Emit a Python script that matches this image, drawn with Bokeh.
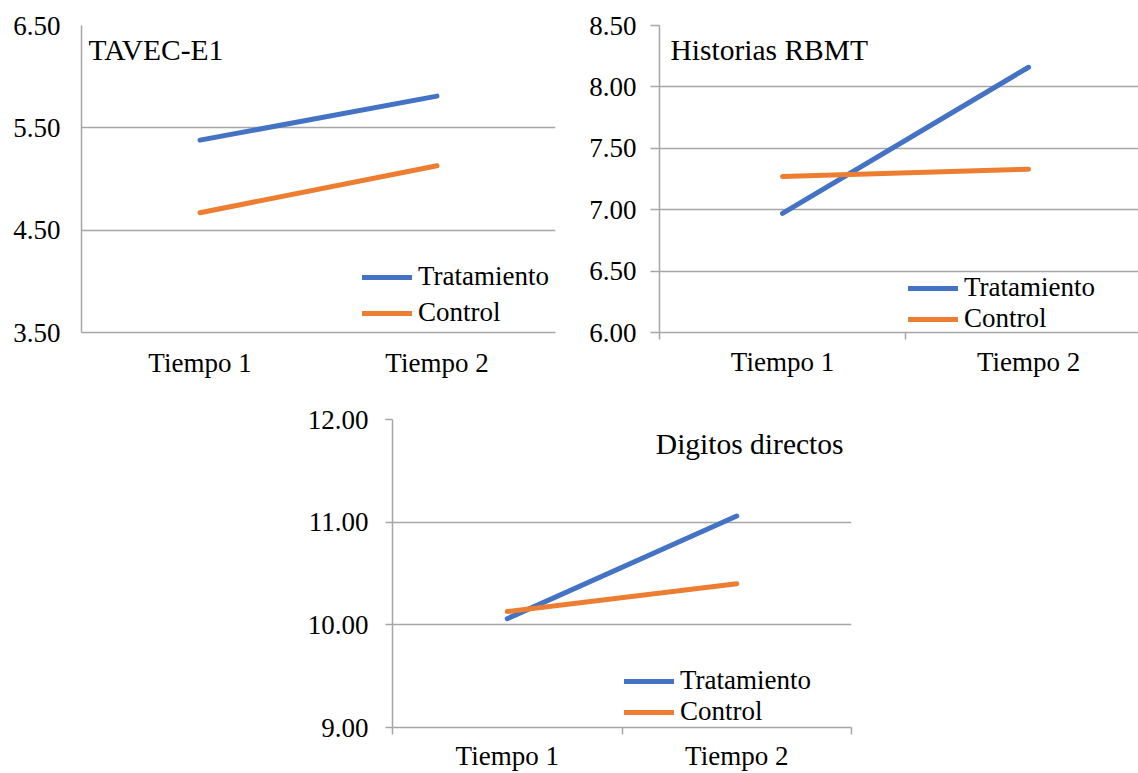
from bokeh.plotting import figure
from bokeh.layouts import column, row
from bokeh.models import FixedTicker, Range1d, Label, Legend, LegendItem, NumeralTickFormatter
from bokeh.embed import file_html
from bokeh.resources import INLINE

# ---------------- data ----------------
categories = ["Tiempo 1", "Tiempo 2"]
series_names = ["Tratamiento", "Control"]

tavec_tratamiento = [5.38, 5.81]
tavec_control = [4.67, 5.13]
tavec_yticks = [3.5, 4.5, 5.5, 6.5]

historias_tratamiento = [6.97, 8.16]
historias_control = [7.27, 7.33]
historias_yticks = [6.0, 6.5, 7.0, 7.5, 8.0, 8.5]

digitos_tratamiento = [10.06, 11.06]
digitos_control = [10.13, 10.40]
digitos_yticks = [9.0, 10.0, 11.0, 12.0]

titles = ["TAVEC-E1", "Historias RBMT", "Digitos directos"]

# ---------------- style ----------------
FONT = "'Liberation Serif', 'Times New Roman', 'DejaVu Serif', serif"
BLUE = "#4472C4"
ORANGE = "#ED7D31"
GRID = "#a6a6a6"
TXT = "#000000"


def panel(width, height, left, right, top, bottom, yticks, trat, ctrl, title,
          title_pos, title_align, legend_loc, legend_spacing, ytick_out,
          xtick_out, x_end, xstand=15, ystand=21):
    xs = [i + 0.5 for i in range(len(categories))]
    p = figure(width=width, height=height, output_backend="svg", toolbar_location=None,
               x_range=Range1d(0, x_end), y_range=Range1d(yticks[0], yticks[-1]),
               min_border_left=left, min_border_right=right,
               min_border_top=top, min_border_bottom=bottom)
    p.outline_line_color = None
    p.background_fill_color = "white"
    p.border_fill_color = "white"

    # x axis: labels at category centres, small ticks at category boundaries
    p.xaxis.ticker = FixedTicker(ticks=xs, minor_ticks=list(range(len(categories) + 1)))
    p.xaxis.major_label_overrides = {x: c for x, c in zip(xs, categories)}
    p.xaxis.major_tick_out = 0
    p.xaxis.major_tick_in = 0
    p.xaxis.minor_tick_out = xtick_out
    p.xaxis.minor_tick_in = 0
    p.xaxis.minor_tick_line_color = GRID if xtick_out else None
    p.xaxis.minor_tick_line_width = 1.5
    p.xaxis.axis_line_color = GRID
    p.xaxis.axis_line_width = 1.5
    p.xaxis.major_label_text_font = FONT
    p.xaxis.major_label_text_font_size = "27px"
    p.xaxis.major_label_text_color = TXT
    p.xaxis.major_label_standoff = xstand
    p.xgrid.visible = False

    p.yaxis.ticker = FixedTicker(ticks=yticks)
    p.yaxis.formatter = NumeralTickFormatter(format="0.00")
    p.yaxis.major_tick_out = ytick_out
    p.yaxis.major_tick_in = 0
    p.yaxis.major_tick_line_color = GRID if ytick_out else None
    p.yaxis.major_tick_line_width = 1.5
    p.yaxis.minor_tick_line_color = None
    p.yaxis.axis_line_color = GRID
    p.yaxis.axis_line_width = 1.5
    p.yaxis.major_label_text_font = FONT
    p.yaxis.major_label_text_font_size = "27px"
    p.yaxis.major_label_text_color = TXT
    p.yaxis.major_label_standoff = ystand
    p.ygrid.grid_line_color = GRID
    p.ygrid.grid_line_width = 1.5

    r1 = p.line(xs, trat, line_color=BLUE, line_width=5, line_cap="round")
    r2 = p.line(xs, ctrl, line_color=ORANGE, line_width=5, line_cap="round")

    legend = Legend(items=[LegendItem(label=series_names[0], renderers=[r1]),
                           LegendItem(label=series_names[1], renderers=[r2])],
                    location=legend_loc, glyph_width=50, glyph_height=20,
                    label_standoff=6, padding=0, margin=0, spacing=legend_spacing,
                    border_line_color=None, background_fill_alpha=0,
                    label_text_font=FONT, label_text_font_size="27px",
                    label_text_color=TXT)
    p.add_layout(legend)

    p.add_layout(Label(x=title_pos[0], y=title_pos[1], x_units="screen", y_units="screen",
                       text=title, text_font=FONT, text_font_size="29.5px",
                       text_color=TXT, text_align=title_align,
                       text_baseline="alphabetic"))
    return p


p1 = panel(570, 390, 81, 15, 25, 58, tavec_yticks, tavec_tratamiento, tavec_control,
           titles[0], (7, 283), "left", (281, 4), 5, 0, 0, 2, xstand=15, ystand=21)
p2 = panel(568, 390, 89, 0, 25, 58, historias_yticks, historias_tratamiento, historias_control,
           titles[1], (11, 283), "left", (249, -2), 0, 9, 7, 1.947, xstand=7, ystand=14)
p3 = panel(870, 383, 392, 19, 29, 45, digitos_yticks, digitos_tratamiento, digitos_control,
           titles[2], (451, 284), "right", (232, 0), 0, 7, 7, 2, xstand=6, ystand=17)

layout = column(row(p1, p2), row(p3))

with open("out.html", "w") as f:
    f.write(file_html(layout, INLINE))
